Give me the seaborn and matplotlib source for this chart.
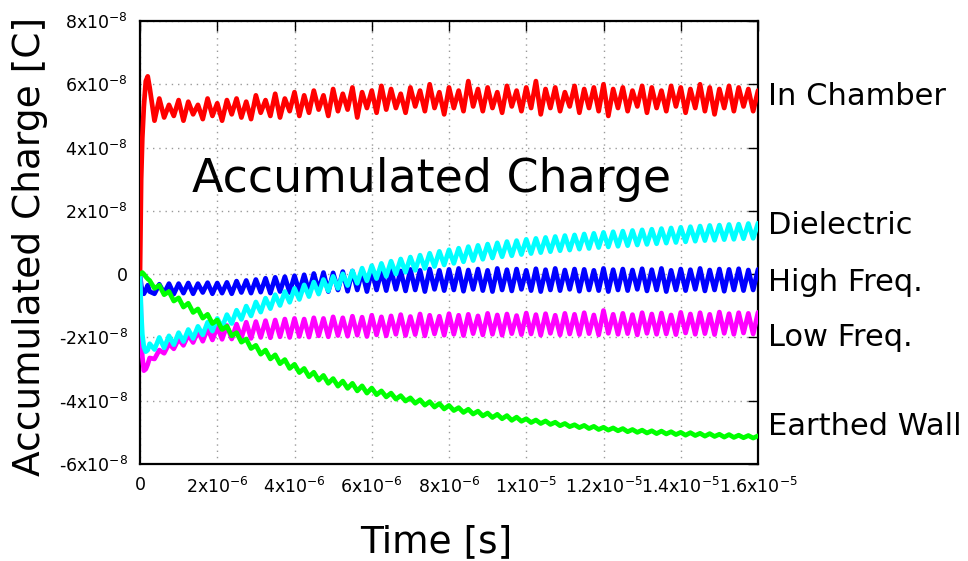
import numpy as np
import pandas as pd
import matplotlib
matplotlib.use("Agg")
import matplotlib.pyplot as plt
import matplotlib.transforms as mtransforms
import seaborn as sns

# ---------------- data (time in microseconds, charge in units of 1e-8 C) ----------------
time_us = [0, 0.03, 0.06, 0.1, 0.15, 0.2, 0.25,
           0.375, 0.5, 0.625, 0.75, 0.875, 1.0, 1.125, 1.25,
           1.375, 1.5, 1.625, 1.75, 1.875, 2.0, 2.125, 2.25,
           2.375, 2.5, 2.625, 2.75, 2.875, 3.0, 3.125, 3.25,
           3.375, 3.5, 3.625, 3.75, 3.875, 4.0, 4.125, 4.25,
           4.375, 4.5, 4.625, 4.75, 4.875, 5.0, 5.125, 5.25,
           5.375, 5.5, 5.625, 5.75, 5.875, 6.0, 6.125, 6.25,
           6.375, 6.5, 6.625, 6.75, 6.875, 7.0, 7.125, 7.25,
           7.375, 7.5, 7.625, 7.75, 7.875, 8.0, 8.125, 8.25,
           8.375, 8.5, 8.625, 8.75, 8.875, 9.0, 9.125, 9.25,
           9.375, 9.5, 9.625, 9.75, 9.875, 10.0, 10.125, 10.25,
           10.375, 10.5, 10.625, 10.75, 10.875, 11.0, 11.125, 11.25,
           11.375, 11.5, 11.625, 11.75, 11.875, 12.0, 12.125, 12.25,
           12.375, 12.5, 12.625, 12.75, 12.875, 13.0, 13.125, 13.25,
           13.375, 13.5, 13.625, 13.75, 13.875, 14.0, 14.125, 14.25,
           14.375, 14.5, 14.625, 14.75, 14.875, 15.0, 15.125, 15.25,
           15.375, 15.5, 15.625, 15.75, 15.875, 16.0]

in_chamber = [0, 3.0, 4.3, 5.3, 6.1, 6.25, 5.9,
              4.85, 5.55, 4.95, 5.35, 5.00, 5.50, 4.85, 5.45, 5.05, 5.35, 4.90, 5.55, 5.00, 5.40, 4.85, 5.50,
              5.05, 5.55, 4.95, 5.45, 4.90, 5.65, 5.10, 5.50, 5.00, 5.70, 4.95, 5.55, 5.15, 5.75, 5.00, 5.65,
              5.10, 5.80, 5.20, 5.65, 5.00, 5.85, 5.15, 5.70, 5.20, 5.90, 4.95, 5.75, 5.25, 5.80, 5.10, 5.95,
              5.20, 5.85, 5.25, 5.70, 5.10, 5.90, 5.30, 5.80, 5.15, 6.00, 5.25, 5.75, 5.05, 5.90, 5.25, 5.80,
              5.15, 6.10, 5.30, 5.85, 5.15, 5.90, 5.25, 5.75, 5.10, 5.95, 5.30, 5.80, 5.15, 5.90, 5.25, 6.10,
              5.05, 5.85, 5.25, 5.90, 5.15, 5.75, 5.30, 5.95, 5.10, 5.85, 5.25, 5.90, 5.15, 6.00, 5.00, 5.85,
              5.25, 5.90, 5.15, 5.80, 5.30, 5.95, 5.10, 5.90, 5.25, 5.80, 5.15, 5.95, 5.30, 5.90, 5.10, 5.85,
              5.25, 6.00, 5.15, 5.90, 5.05, 5.85, 5.25, 5.95, 5.15, 5.90, 5.30, 5.85, 5.15, 5.80]

high_freq = [0, -0.35, -0.55, -0.62, -0.50, -0.35, -0.55,
             -0.62, -0.32, -0.60, -0.30, -0.63, -0.30, -0.60, -0.28, -0.62, -0.30, -0.58, -0.27, -0.62, -0.28,
             -0.60, -0.26, -0.62, -0.22, -0.58, -0.20, -0.60, -0.17, -0.57, -0.13, -0.60, -0.10, -0.55, -0.08,
             -0.58, -0.05, -0.55, -0.02, -0.56, 0.02, -0.52, 0.05, -0.55, 0.04, -0.50, 0.08, -0.54, 0.10,
             -0.50, 0.08, -0.55, 0.12, -0.50, 0.10, -0.52, 0.14, -0.48, 0.10, -0.53, 0.15, -0.50, 0.12,
             -0.55, 0.16, -0.48, 0.12, -0.52, 0.15, -0.50, 0.18, -0.54, 0.13, -0.48, 0.16, -0.52, 0.12,
             -0.55, 0.18, -0.50, 0.14, -0.53, 0.16, -0.48, 0.12, -0.52, 0.17, -0.55, 0.14, -0.50, 0.18,
             -0.52, 0.13, -0.48, 0.16, -0.54, 0.15, -0.50, 0.12, -0.52, 0.18, -0.55, 0.14, -0.50, 0.16,
             -0.52, 0.13, -0.48, 0.17, -0.53, 0.14, -0.50, 0.18, -0.55, 0.12, -0.50, 0.16, -0.52, 0.14,
             -0.48, 0.18, -0.53, 0.13, -0.50, 0.16, -0.54, 0.15, -0.50, 0.17, -0.52, 0.13, -0.50, 0.15]

dielectric = [0, -1.2, -1.9, -2.3, -2.45, -2.4, -2.2,
              -2.38, -2.00, -2.33, -1.95, -2.23, -1.85, -2.13, -1.75, -2.03, -1.65, -1.92, -1.52, -1.80, -1.40,
              -1.68, -1.28, -1.56, -1.14, -1.43, -1.01, -1.32, -0.88, -1.20, -0.76, -1.09, -0.65, -0.99, -0.55,
              -0.89, -0.45, -0.80, -0.34, -0.71, -0.25, -0.63, -0.17, -0.53, -0.07, -0.45, 0.01, -0.36, 0.10,
              -0.29, 0.19, -0.21, 0.27, -0.14, 0.34, -0.07, 0.41, 0.00, 0.48, 0.06, 0.54, 0.12, 0.60,
              0.18, 0.66, 0.24, 0.72, 0.29, 0.77, 0.34, 0.82, 0.39, 0.87, 0.43, 0.91, 0.47, 0.95,
              0.51, 0.99, 0.55, 1.03, 0.58, 1.06, 0.62, 1.10, 0.65, 1.13, 0.68, 1.16, 0.71, 1.19,
              0.74, 1.22, 0.76, 1.24, 0.79, 1.27, 0.81, 1.29, 0.84, 1.32, 0.86, 1.34, 0.88, 1.36,
              0.90, 1.38, 0.92, 1.40, 0.94, 1.42, 0.96, 1.44, 0.98, 1.46, 1.00, 1.48, 1.02, 1.50,
              1.04, 1.52, 1.06, 1.54, 1.07, 1.55, 1.09, 1.57, 1.10, 1.58, 1.12, 1.60, 1.13, 1.61]

low_freq = [0, -1.6, -2.6, -3.05, -3.0, -2.85, -2.65,
            -2.68, -2.40, -2.50, -2.20, -2.36, -2.05, -2.25, -1.92, -2.16, -1.80, -2.12, -1.72, -2.08, -1.66,
            -2.06, -1.62, -2.05, -1.58, -2.02, -1.52, -2.03, -1.50, -2.00, -1.47, -2.01, -1.45, -1.98, -1.42,
            -2.00, -1.40, -1.97, -1.42, -1.99, -1.38, -1.95, -1.40, -1.98, -1.35, -1.94, -1.38, -1.96, -1.33,
            -1.93, -1.36, -1.97, -1.30, -1.92, -1.35, -1.95, -1.32, -1.90, -1.28, -1.94, -1.34, -1.91, -1.26,
            -1.95, -1.30, -1.89, -1.33, -1.93, -1.25, -1.90, -1.30, -1.94, -1.27, -1.88, -1.32, -1.92, -1.24,
            -1.90, -1.29, -1.93, -1.26, -1.88, -1.31, -1.91, -1.23, -1.89, -1.28, -1.93, -1.25, -1.87, -1.30,
            -1.92, -1.24, -1.89, -1.27, -1.91, -1.22, -1.88, -1.29, -1.92, -1.15, -1.87, -1.27, -1.90, -1.24,
            -1.88, -1.28, -1.92, -1.22, -1.87, -1.26, -1.90, -1.23, -1.89, -1.29, -1.91, -1.21, -1.86, -1.26,
            -1.90, -1.22, -1.88, -1.27, -1.91, -1.20, -1.87, -1.25, -1.90, -1.22, -1.86, -1.24, -1.89, -1.21]

earthed_wall = [0, 0.02, 0.05, 0.0, -0.08, -0.15, -0.2,
                -0.45, -0.35, -0.65, -0.55, -0.85, -0.75, -1.04, -0.92, -1.21, -1.10, -1.39, -1.27, -1.56, -1.45,
                -1.75, -1.65, -1.95, -1.85, -2.15, -2.05, -2.35, -2.25, -2.53, -2.40, -2.68, -2.55, -2.83, -2.70,
                -2.98, -2.85, -3.11, -2.98, -3.24, -3.10, -3.35, -3.20, -3.45, -3.30, -3.54, -3.38, -3.61, -3.45,
                -3.69, -3.53, -3.76, -3.60, -3.81, -3.69, -3.88, -3.76, -3.95, -3.84, -4.01, -3.91, -4.08, -3.97,
                -4.14, -4.03, -4.20, -4.09, -4.26, -4.15, -4.31, -4.22, -4.37, -4.27, -4.42, -4.33, -4.48, -4.39,
                -4.53, -4.43, -4.57, -4.47, -4.62, -4.52, -4.65, -4.57, -4.69, -4.61, -4.72, -4.64, -4.75, -4.68,
                -4.79, -4.72, -4.82, -4.76, -4.85, -4.78, -4.88, -4.81, -4.91, -4.84, -4.93, -4.86, -4.95, -4.88,
                -4.98, -4.91, -5.00, -4.93, -5.02, -4.95, -5.04, -4.96, -5.05, -4.98, -5.07, -5.00, -5.09, -5.01,
                -5.10, -5.03, -5.12, -5.04, -5.13, -5.06, -5.15, -5.07, -5.16, -5.09, -5.17, -5.10, -5.18, -5.11]

series_names = ["In Chamber", "High Freq.", "Low Freq.", "Dielectric", "Earthed Wall"]
series_values = [in_chamber, high_freq, low_freq, dielectric, earthed_wall]
series_colors = ["#ff0000", "#0000ff", "#ff00ff", "#00ffff", "#00ff00"]

# right-hand labels and their heights (1e-8 C)
label_names = ["In Chamber", "Dielectric", "High Freq.", "Low Freq.", "Earthed Wall"]
label_y = [5.6, 1.55, -0.25, -2.0, -4.8]

x_ticks = [0, 2e-6, 4e-6, 6e-6, 8e-6, 1e-5, 1.2e-5, 1.4e-5, 1.6e-5]
x_ticklabels = ["0", "2x10$^{-6}$", "4x10$^{-6}$", "6x10$^{-6}$", "8x10$^{-6}$",
                "1x10$^{-5}$", "1.2x10$^{-5}$", "1.4x10$^{-5}$", "1.6x10$^{-5}$"]
y_ticks = [-6e-8, -4e-8, -2e-8, 0, 2e-8, 4e-8, 6e-8, 8e-8]
y_ticklabels = ["-6x10$^{-8}$", "-4x10$^{-8}$", "-2x10$^{-8}$", "0",
                "2x10$^{-8}$", "4x10$^{-8}$", "6x10$^{-8}$", "8x10$^{-8}$"]

# ---------------- build long table ----------------
rows = []
for name, vals in zip(series_names, series_values):
    for i, (t, v) in enumerate(zip(time_us, vals)):
        rows.append({"series": name, "idx": i, "time": t * 1e-6, "charge": v * 1e-8})
df = pd.DataFrame(rows)

sns.set_theme(style="white")
plt.rcParams["font.family"] = ["DejaVu Sans"]
plt.rcParams["mathtext.fontset"] = "dejavusans"
plt.rcParams["text.color"] = "black"
plt.rcParams["axes.labelcolor"] = "black"
plt.rcParams["xtick.color"] = "black"
plt.rcParams["ytick.color"] = "black"

fig = plt.figure(figsize=(9.68, 5.61), dpi=100)
ax = fig.add_axes([140 / 968, 1 - 464 / 561, (758 - 140) / 968, (464 - 21) / 561])

palette = dict(zip(series_names, series_colors))
for name in series_names:
    sub = df[df["series"] == name]
    sns.lineplot(data=sub, x="time", y="charge", color=palette[name], lw=3.4,
                 sort=False, estimator=None, legend=False, ax=ax, zorder=3)

ax.set_xlim(0, 1.6e-5)
ax.set_ylim(-6e-8, 8e-8)
ax.set_xticks(x_ticks)
ax.set_xticklabels(x_ticklabels)
ax.set_yticks(y_ticks)
ax.set_yticklabels(y_ticklabels)
ax.set_xlabel("")
ax.set_ylabel("")
ax.grid(True, color="#9a9a9a", linestyle=(0, (1, 3.5)), lw=1.0)
ax.set_axisbelow(True)
for sp in ax.spines.values():
    sp.set_visible(True)
    sp.set_color("black")
    sp.set_linewidth(1.6)
ax.tick_params(direction="in", length=7, width=1.0, top=True, right=True,
               labelsize=12.5, pad=9, colors="black")

trans = mtransforms.blended_transform_factory(ax.transAxes, ax.transData)
for name, yv in zip(label_names, label_y):
    ax.text(1.016, yv * 1e-8, name, transform=trans, ha="left", va="center",
            fontsize=22, color="black", clip_on=False)

ax.text(192 / 968, 1 - 192 / 561, "Accumulated Charge", transform=fig.transFigure,
        ha="left", va="baseline", fontsize=33, color="black", zorder=5)

fig.text(436 / 968, 1 - 552 / 561, "Time [s]", ha="center", va="baseline",
         fontsize=27, color="black")
fig.text(30 / 968, 1 - 246 / 561, "Accumulated Charge [C]", ha="center", va="center",
         rotation=90, fontsize=27, color="black")

fig.savefig("out.png", dpi=100)
